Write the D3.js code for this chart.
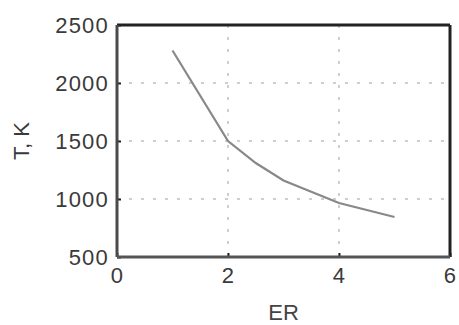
<!DOCTYPE html>
<html><head><meta charset="utf-8">
<script src="https://cdn.jsdelivr.net/npm/d3@7"></script>
<style>body{margin:0;background:#fff}svg{display:block}text{font-family:"Liberation Sans",Arial,sans-serif}</style>
</head><body>
<svg id="c" width="459" height="325"></svg>
<script>
const erValues = [1, 2, 2.5, 3, 4, 4.5, 5];
const tempValues = [2280, 1500, 1310, 1160, 966, 905, 845];
const xTicks = [0, 2, 4, 6];
const yTicks = [500, 1000, 1500, 2000, 2500];
const xLabel = "ER";
const yLabel = "T, K";

const svg = d3.select("#c");
const m = {l:117, r:450, t:25, b:257};
const x = d3.scaleLinear().domain([0,6]).range([m.l, m.r]);
const y = d3.scaleLinear().domain([500,2500]).range([m.b, m.t]);

// grid
const g = svg.append("g");
g.selectAll(".gx").data(xTicks.slice(1,-1)).enter().append("line")
  .attr("x1",d=>x(d)).attr("x2",d=>x(d)).attr("y1",m.t).attr("y2",m.b)
  .attr("stroke","#cfcfcf").attr("stroke-width",2).attr("stroke-dasharray","3,9");
g.selectAll(".gy").data(yTicks.slice(1,-1)).enter().append("line")
  .attr("y1",d=>y(d)).attr("y2",d=>y(d)).attr("x1",m.l).attr("x2",m.r)
  .attr("stroke","#cfcfcf").attr("stroke-width",2).attr("stroke-dasharray","3,9");

// data line
svg.append("path").datum(erValues.map((e,i)=>[e,tempValues[i]]))
  .attr("fill","none").attr("stroke","#888").attr("stroke-width",2.2)
  .attr("d", d3.line().x(d=>x(d[0])).y(d=>y(d[1])));

// axes
const xAxis = svg.append("g").attr("transform",`translate(0,${m.b})`)
  .call(d3.axisBottom(x).tickValues(xTicks).tickSize(-4).tickPadding(10).tickFormat(d3.format("d")));
const yAxis = svg.append("g").attr("transform",`translate(${m.l},0)`)
  .call(d3.axisLeft(y).tickValues(yTicks).tickSize(-4).tickPadding(8).tickFormat(d3.format("d")));
[xAxis,yAxis].forEach(a=>{
  a.select(".domain").remove();
  a.selectAll(".tick line").attr("stroke","#222").attr("stroke-width",2);
  a.selectAll("text").attr("font-size",22).attr("fill","#3a3a3a")
    .attr("font-family","'Liberation Sans',Arial,sans-serif").attr("letter-spacing","1.2px");
});
yAxis.selectAll("text").attr("dy","0.36em");
xAxis.selectAll("text").attr("dy","0.72em");

// frame
svg.append("line").attr("x1",m.l).attr("x2",m.r).attr("y1",m.t).attr("y2",m.t).attr("stroke","#222").attr("stroke-width",3);
svg.append("line").attr("x1",m.r).attr("x2",m.r).attr("y1",m.t).attr("y2",m.b).attr("stroke","#222").attr("stroke-width",3);
svg.append("line").attr("x1",m.l).attr("x2",m.l).attr("y1",m.t).attr("y2",m.b).attr("stroke","#4a4a4a").attr("stroke-width",3);
svg.append("line").attr("x1",m.l).attr("x2",m.r).attr("y1",m.b).attr("y2",m.b).attr("stroke","#555").attr("stroke-width",3);

// labels
svg.append("text").attr("x",(m.l+m.r)/2).attr("y",320).attr("text-anchor","middle")
  .attr("font-size",22).attr("fill","#444").text(xLabel);
svg.append("text").attr("transform",`translate(29,${(m.t+m.b)/2}) rotate(-90)`).attr("text-anchor","middle")
  .attr("font-size",22).attr("fill","#3a3a3a").text(yLabel);
</script>
</body></html>
